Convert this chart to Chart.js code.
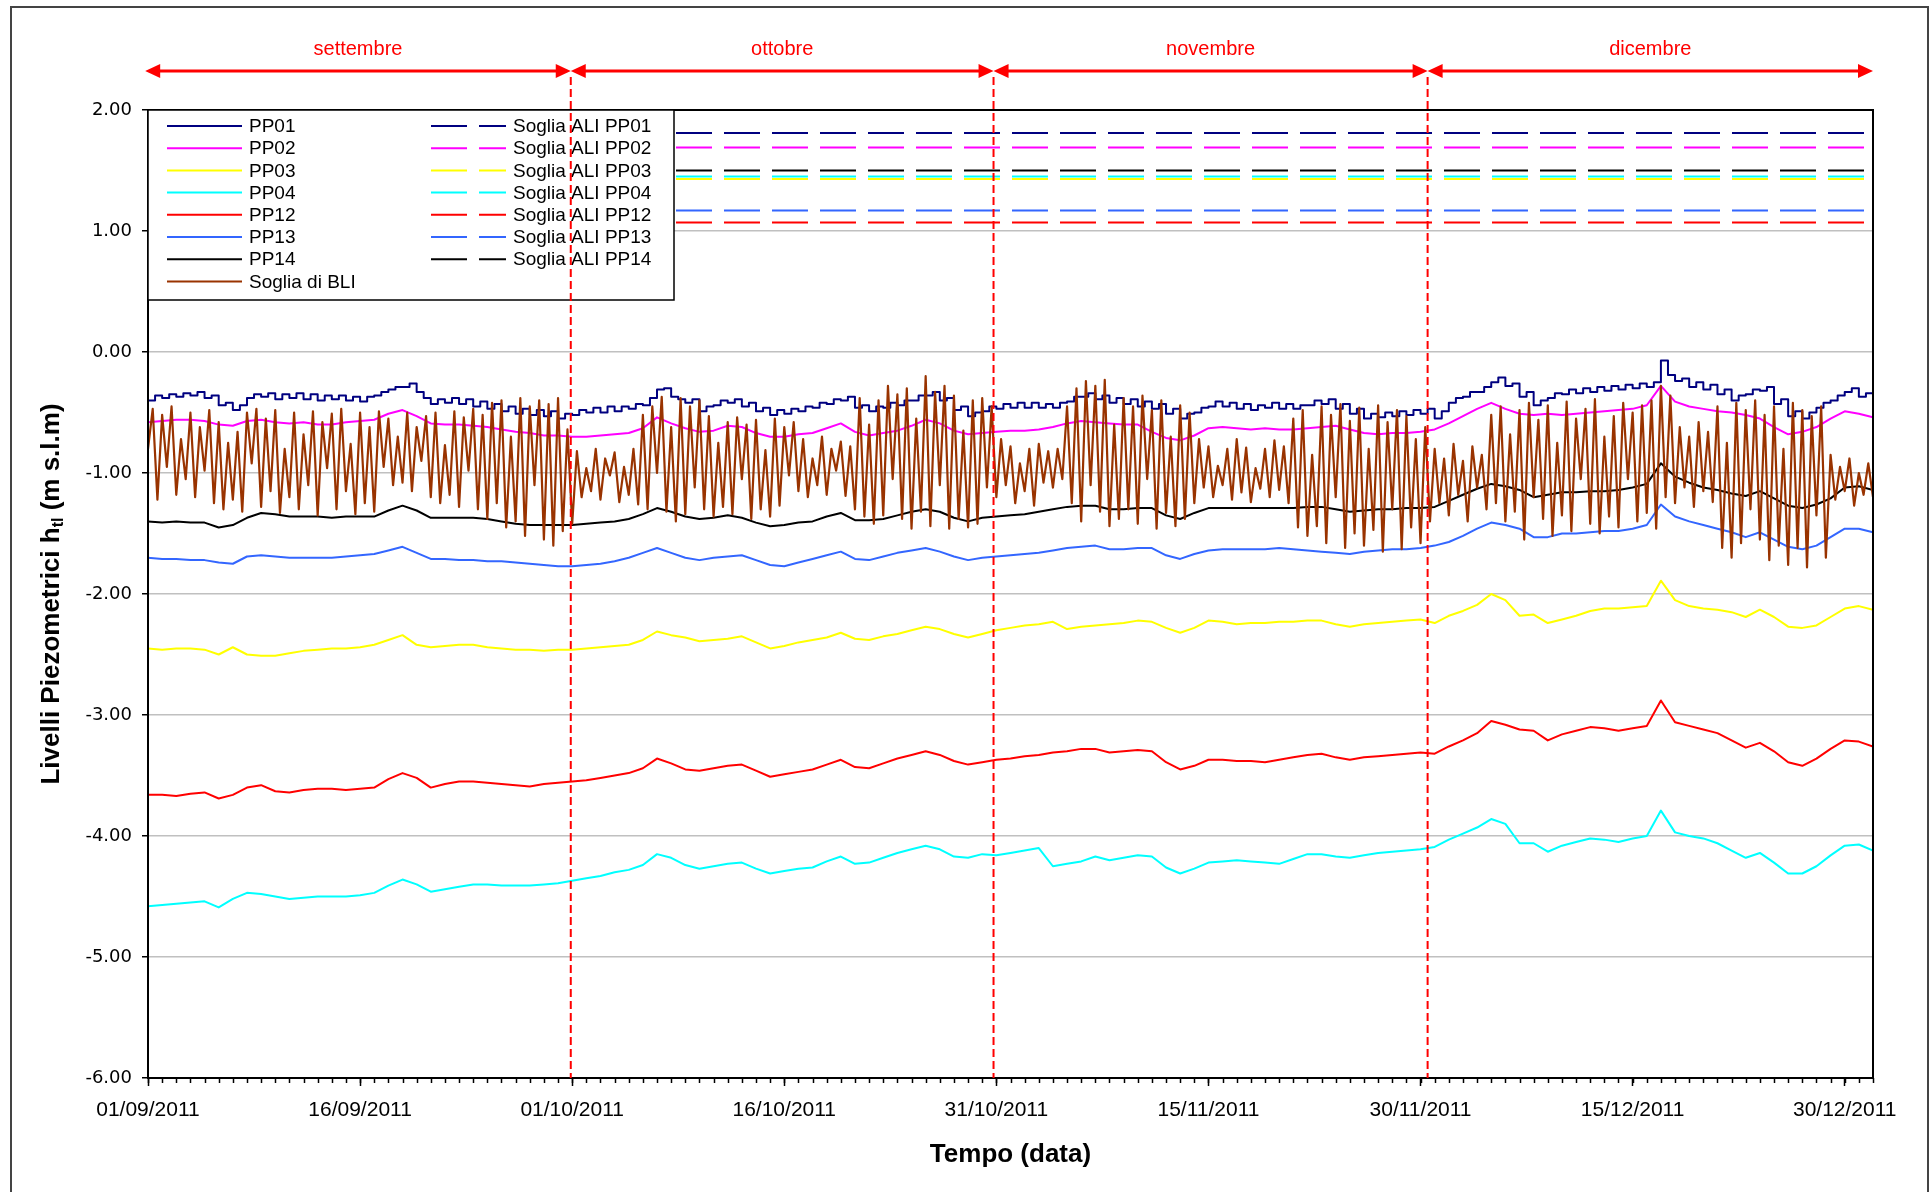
<!DOCTYPE html>
<html lang="it">
<head>
<meta charset="utf-8">
<title>Livelli piezometrici set-dic 2011</title>
<script src="https://cdn.jsdelivr.net/npm/chart.js@4.4.1/dist/chart.umd.min.js"></script>
<style>
  html, body { margin: 0; padding: 0; background: #fff; }
  #box { position: relative; width: 1930px; height: 1192px; }
</style>
</head>
<body>
<div id="box"><canvas id="graficoLivelli"></canvas></div>
<script>
/* ============================================================
DATI (giorni dal 01/09/2011, livelli in m s.l.m.)
============================================================ */

const giorniTotali = 122; // 01/09/2011 -> 01/01/2012
const tickGiorni = [0, 15, 30, 45, 60, 75, 90, 105, 120];
const etichetteX = [
  "01/09/2011", "16/09/2011", "01/10/2011", "16/10/2011", "31/10/2011",
  "15/11/2011", "30/11/2011", "15/12/2011", "30/12/2011",
];

const mesi = ["settembre", "ottobre", "novembre", "dicembre"];
const confiniMesi = [-0.2, 29.9, 59.8, 90.5, 122];

const nomiPozzi = ["PP01", "PP02", "PP03", "PP04", "PP12", "PP13", "PP14"];
const coloriPozzi = ["#000080", "#ff00ff", "#ffff00", "#00ffff", "#ff0000", "#3366ff", "#000000"];
const coloreBLI = "#993300";

// soglie ALI (m s.l.m.) nello stesso ordine dei pozzi
const soglieALI = [1.81, 1.69, 1.43, 1.45, 1.07, 1.17, 1.50];

// PP01: una lettura ogni 12 ore
const passoPP01 = 0.5;
const livelliPP01 = [
  -0.40, -0.36, -0.38, -0.35, -0.37, -0.34, -0.36, -0.33, -0.38, -0.36,
  -0.44, -0.42, -0.48, -0.44, -0.38, -0.35, -0.37, -0.34, -0.39, -0.35,
  -0.38, -0.34, -0.39, -0.35, -0.40, -0.36, -0.39, -0.36, -0.40, -0.37,
  -0.41, -0.37, -0.36, -0.33, -0.31, -0.29, -0.29, -0.26, -0.33, -0.38,
  -0.43, -0.39, -0.42, -0.38, -0.43, -0.39, -0.45, -0.41, -0.47, -0.43,
  -0.49, -0.45, -0.51, -0.47, -0.52, -0.48, -0.53, -0.49, -0.55, -0.51,
  -0.52, -0.48, -0.50, -0.46, -0.50, -0.45, -0.49, -0.45, -0.47, -0.43,
  -0.44, -0.38, -0.31, -0.30, -0.37, -0.39, -0.42, -0.39, -0.49, -0.45,
  -0.44, -0.40, -0.42, -0.39, -0.45, -0.42, -0.49, -0.46, -0.52, -0.48,
  -0.51, -0.47, -0.49, -0.45, -0.46, -0.42, -0.43, -0.39, -0.40, -0.37,
  -0.46, -0.44, -0.49, -0.45, -0.46, -0.42, -0.44, -0.40, -0.40, -0.36,
  -0.36, -0.33, -0.40, -0.38, -0.48, -0.45, -0.53, -0.50, -0.49, -0.45,
  -0.47, -0.43, -0.46, -0.42, -0.46, -0.42, -0.46, -0.43, -0.46, -0.42,
  -0.41, -0.37, -0.37, -0.34, -0.39, -0.36, -0.42, -0.38, -0.43, -0.39,
  -0.45, -0.41, -0.47, -0.43, -0.51, -0.47, -0.55, -0.51, -0.50, -0.46,
  -0.45, -0.41, -0.45, -0.42, -0.47, -0.43, -0.48, -0.44, -0.46, -0.42,
  -0.47, -0.43, -0.47, -0.44, -0.44, -0.40, -0.43, -0.39, -0.47, -0.43,
  -0.51, -0.47, -0.55, -0.51, -0.54, -0.50, -0.53, -0.49, -0.52, -0.48,
  -0.51, -0.47, -0.55, -0.49, -0.42, -0.38, -0.37, -0.33, -0.33, -0.29,
  -0.25, -0.21, -0.28, -0.26, -0.37, -0.33, -0.44, -0.40, -0.38, -0.34,
  -0.35, -0.31, -0.34, -0.30, -0.33, -0.29, -0.32, -0.28, -0.31, -0.27,
  -0.30, -0.26, -0.29, -0.25, -0.07, -0.19, -0.24, -0.22, -0.29, -0.25,
  -0.31, -0.27, -0.35, -0.31, -0.40, -0.36, -0.35, -0.31, -0.32, -0.29,
  -0.43, -0.39, -0.53, -0.49, -0.55, -0.50, -0.46, -0.42, -0.40, -0.36,
  -0.33, -0.30, -0.37, -0.34, -0.39,
];

// gli altri pozzi: una lettura al giorno
const livelliPP02 = [
  -0.58, -0.57, -0.56, -0.56, -0.57, -0.60, -0.61, -0.57, -0.56, -0.58,
  -0.59, -0.58, -0.60, -0.60, -0.58, -0.57, -0.56, -0.51, -0.48, -0.53,
  -0.59, -0.60, -0.60, -0.61, -0.62, -0.64, -0.66, -0.67, -0.69, -0.69,
  -0.70, -0.70, -0.69, -0.68, -0.67, -0.63, -0.54, -0.59, -0.63, -0.66,
  -0.65, -0.61, -0.62, -0.67, -0.70, -0.70, -0.68, -0.67, -0.63, -0.59,
  -0.66, -0.69, -0.67, -0.65, -0.61, -0.56, -0.59, -0.65, -0.68, -0.67,
  -0.66, -0.65, -0.65, -0.64, -0.62, -0.59, -0.57, -0.58, -0.59, -0.60,
  -0.60, -0.66, -0.71, -0.73, -0.69, -0.63, -0.62, -0.63, -0.64, -0.63,
  -0.64, -0.64, -0.63, -0.62, -0.61, -0.64, -0.67, -0.68, -0.67, -0.67,
  -0.66, -0.64, -0.59, -0.53, -0.47, -0.42, -0.47, -0.51, -0.52, -0.51,
  -0.52, -0.51, -0.50, -0.49, -0.48, -0.47, -0.44, -0.28, -0.41, -0.45,
  -0.47, -0.49, -0.50, -0.52, -0.55, -0.62, -0.68, -0.66, -0.62, -0.55,
  -0.49, -0.51, -0.54,
];

const livelliPP03 = [
  -2.45, -2.46, -2.45, -2.45, -2.46, -2.50, -2.44, -2.50, -2.51, -2.51,
  -2.49, -2.47, -2.46, -2.45, -2.45, -2.44, -2.42, -2.38, -2.34, -2.42,
  -2.44, -2.43, -2.42, -2.42, -2.44, -2.45, -2.46, -2.46, -2.47, -2.46,
  -2.46, -2.45, -2.44, -2.43, -2.42, -2.38, -2.31, -2.34, -2.36, -2.39,
  -2.38, -2.37, -2.35, -2.40, -2.45, -2.43, -2.40, -2.38, -2.36, -2.32,
  -2.37, -2.38, -2.35, -2.33, -2.30, -2.27, -2.29, -2.33, -2.36, -2.33,
  -2.30, -2.28, -2.26, -2.25, -2.23, -2.29, -2.27, -2.26, -2.25, -2.24,
  -2.22, -2.23, -2.28, -2.32, -2.28, -2.22, -2.23, -2.25, -2.24, -2.24,
  -2.23, -2.23, -2.22, -2.22, -2.25, -2.27, -2.25, -2.24, -2.23, -2.22,
  -2.21, -2.24, -2.18, -2.14, -2.09, -2.00, -2.05, -2.18, -2.17, -2.24,
  -2.21, -2.18, -2.14, -2.12, -2.12, -2.11, -2.10, -1.89, -2.05, -2.10,
  -2.12, -2.13, -2.15, -2.19, -2.13, -2.19, -2.27, -2.28, -2.26, -2.19,
  -2.12, -2.10, -2.13,
];

const livelliPP04 = [
  -4.58, -4.57, -4.56, -4.55, -4.54, -4.59, -4.52, -4.47, -4.48, -4.50,
  -4.52, -4.51, -4.50, -4.50, -4.50, -4.49, -4.47, -4.41, -4.36, -4.40,
  -4.46, -4.44, -4.42, -4.40, -4.40, -4.41, -4.41, -4.41, -4.40, -4.39,
  -4.37, -4.35, -4.33, -4.30, -4.28, -4.24, -4.15, -4.18, -4.24, -4.27,
  -4.25, -4.23, -4.22, -4.27, -4.31, -4.29, -4.27, -4.26, -4.21, -4.17,
  -4.23, -4.22, -4.18, -4.14, -4.11, -4.08, -4.11, -4.17, -4.18, -4.15,
  -4.16, -4.14, -4.12, -4.10, -4.25, -4.23, -4.21, -4.17, -4.20, -4.18,
  -4.16, -4.17, -4.26, -4.31, -4.27, -4.22, -4.21, -4.20, -4.21, -4.22,
  -4.23, -4.19, -4.15, -4.15, -4.17, -4.18, -4.16, -4.14, -4.13, -4.12,
  -4.11, -4.09, -4.03, -3.98, -3.93, -3.86, -3.90, -4.06, -4.06, -4.13,
  -4.08, -4.05, -4.02, -4.03, -4.05, -4.02, -4.00, -3.79, -3.97, -4.00,
  -4.02, -4.06, -4.12, -4.18, -4.14, -4.22, -4.31, -4.31, -4.25, -4.16,
  -4.08, -4.07, -4.12,
];

const livelliPP12 = [
  -3.66, -3.66, -3.67, -3.65, -3.64, -3.69, -3.66, -3.60, -3.58, -3.63,
  -3.64, -3.62, -3.61, -3.61, -3.62, -3.61, -3.60, -3.53, -3.48, -3.52,
  -3.60, -3.57, -3.55, -3.55, -3.56, -3.57, -3.58, -3.59, -3.57, -3.56,
  -3.55, -3.54, -3.52, -3.50, -3.48, -3.44, -3.36, -3.40, -3.45, -3.46,
  -3.44, -3.42, -3.41, -3.46, -3.51, -3.49, -3.47, -3.45, -3.41, -3.37,
  -3.43, -3.44, -3.40, -3.36, -3.33, -3.30, -3.33, -3.38, -3.41, -3.39,
  -3.37, -3.36, -3.34, -3.33, -3.31, -3.30, -3.28, -3.28, -3.31, -3.30,
  -3.29, -3.30, -3.39, -3.45, -3.42, -3.37, -3.37, -3.38, -3.38, -3.39,
  -3.37, -3.35, -3.33, -3.32, -3.35, -3.37, -3.35, -3.34, -3.33, -3.32,
  -3.31, -3.32, -3.26, -3.21, -3.15, -3.05, -3.08, -3.12, -3.13, -3.21,
  -3.16, -3.13, -3.10, -3.11, -3.13, -3.11, -3.09, -2.88, -3.06, -3.09,
  -3.12, -3.15, -3.21, -3.27, -3.23, -3.30, -3.39, -3.42, -3.36, -3.28,
  -3.21, -3.22, -3.26,
];

const livelliPP13 = [
  -1.70, -1.71, -1.71, -1.72, -1.72, -1.74, -1.75, -1.69, -1.68, -1.69,
  -1.70, -1.70, -1.70, -1.70, -1.69, -1.68, -1.67, -1.64, -1.61, -1.66,
  -1.71, -1.71, -1.72, -1.72, -1.73, -1.73, -1.74, -1.75, -1.76, -1.77,
  -1.77, -1.76, -1.75, -1.73, -1.70, -1.66, -1.62, -1.66, -1.70, -1.72,
  -1.70, -1.69, -1.68, -1.72, -1.76, -1.77, -1.74, -1.71, -1.68, -1.65,
  -1.71, -1.72, -1.69, -1.66, -1.64, -1.62, -1.65, -1.69, -1.72, -1.70,
  -1.69, -1.68, -1.67, -1.66, -1.64, -1.62, -1.61, -1.60, -1.63, -1.63,
  -1.62, -1.62, -1.68, -1.71, -1.67, -1.64, -1.63, -1.63, -1.63, -1.63,
  -1.62, -1.63, -1.64, -1.65, -1.66, -1.67, -1.65, -1.64, -1.63, -1.63,
  -1.62, -1.60, -1.57, -1.52, -1.46, -1.41, -1.43, -1.46, -1.53, -1.53,
  -1.50, -1.50, -1.49, -1.48, -1.48, -1.46, -1.43, -1.26, -1.36, -1.40,
  -1.43, -1.46, -1.49, -1.53, -1.49, -1.55, -1.61, -1.63, -1.60, -1.53,
  -1.46, -1.46, -1.49,
];

const livelliPP14 = [
  -1.40, -1.41, -1.40, -1.41, -1.41, -1.45, -1.43, -1.37, -1.33, -1.34,
  -1.36, -1.36, -1.36, -1.37, -1.36, -1.36, -1.36, -1.31, -1.27, -1.31,
  -1.37, -1.37, -1.37, -1.37, -1.38, -1.40, -1.42, -1.43, -1.43, -1.43,
  -1.43, -1.42, -1.41, -1.40, -1.38, -1.34, -1.29, -1.32, -1.36, -1.38,
  -1.37, -1.35, -1.37, -1.41, -1.44, -1.43, -1.41, -1.40, -1.36, -1.33,
  -1.39, -1.39, -1.38, -1.35, -1.32, -1.30, -1.32, -1.37, -1.40, -1.37,
  -1.36, -1.35, -1.34, -1.32, -1.30, -1.28, -1.27, -1.27, -1.30, -1.30,
  -1.29, -1.29, -1.35, -1.38, -1.33, -1.29, -1.29, -1.29, -1.29, -1.29,
  -1.29, -1.29, -1.28, -1.28, -1.30, -1.32, -1.31, -1.30, -1.30, -1.29,
  -1.29, -1.28, -1.23, -1.18, -1.13, -1.09, -1.11, -1.14, -1.20, -1.18,
  -1.16, -1.16, -1.15, -1.15, -1.14, -1.12, -1.09, -0.92, -1.03, -1.08,
  -1.12, -1.14, -1.17, -1.19, -1.15, -1.21, -1.27, -1.29, -1.26, -1.21,
  -1.12, -1.11, -1.14,
];

// Soglia di BLI: una lettura ogni 8 ore
const passoBLI = 1 / 3;
const livelliBLI = [
  -0.80, -0.47, -1.22, -0.52, -0.95, -0.45, -1.18, -0.72, -1.05, -0.50, -1.20, -0.62, -0.98, -0.48, -1.25,
  -0.58, -1.30, -0.75, -1.22, -0.66, -1.32, -0.50, -0.92, -0.47, -1.28, -0.55, -1.15, -0.48, -1.33, -0.80,
  -1.20, -0.50, -1.30, -0.68, -1.10, -0.49, -1.35, -0.58, -0.96, -0.51, -1.30, -0.47, -1.15, -0.76, -1.34,
  -0.50, -1.25, -0.62, -1.32, -0.49, -0.95, -0.55, -1.10, -0.70, -1.08, -0.50, -1.15, -0.62, -0.90, -0.53,
  -1.20, -0.50, -1.25, -0.77, -1.18, -0.49, -1.28, -0.54, -0.98, -0.47, -1.30, -0.52, -1.38, -0.42, -1.25,
  -0.40, -1.45, -0.70, -1.40, -0.38, -1.52, -0.45, -1.10, -0.40, -1.55, -0.43, -1.60, -0.38, -1.48, -0.64,
  -1.42, -0.82, -1.20, -0.96, -1.15, -0.80, -1.22, -0.88, -1.02, -0.83, -1.24, -0.95, -1.18, -0.80, -1.26,
  -0.52, -1.30, -0.45, -1.00, -0.37, -1.32, -0.62, -1.40, -0.38, -1.34, -0.45, -1.12, -0.40, -1.30, -0.53,
  -1.36, -0.75, -1.28, -0.58, -1.34, -0.54, -1.05, -0.60, -1.38, -0.56, -1.30, -0.81, -1.36, -0.55, -1.27,
  -0.62, -1.02, -0.58, -1.15, -0.72, -1.20, -0.88, -1.10, -0.70, -1.18, -0.80, -0.98, -0.74, -1.19, -0.78,
  -1.30, -0.38, -1.36, -0.60, -1.42, -0.40, -1.35, -0.28, -1.05, -0.35, -1.38, -0.30, -1.46, -0.55, -1.32,
  -0.20, -1.44, -0.33, -1.10, -0.28, -1.46, -0.36, -1.38, -0.65, -1.45, -0.40, -1.42, -0.38, -1.12, -0.45,
  -1.20, -0.72, -1.10, -0.78, -1.25, -0.92, -1.15, -0.80, -1.27, -0.76, -1.08, -0.82, -1.12, -0.80, -1.05,
  -0.45, -1.25, -0.30, -1.40, -0.24, -1.10, -0.28, -1.32, -0.23, -1.44, -0.60, -1.38, -0.38, -1.30, -0.45,
  -1.42, -0.36, -1.05, -0.48, -1.46, -0.40, -1.33, -0.70, -1.44, -0.44, -1.38, -0.50, -1.25, -0.72, -1.12,
  -0.78, -1.20, -0.94, -1.10, -0.80, -1.22, -0.72, -1.16, -0.79, -1.24, -0.96, -1.13, -0.80, -1.20, -0.73,
  -1.14, -0.78, -1.25, -0.55, -1.45, -0.48, -1.52, -0.85, -1.44, -0.45, -1.58, -0.52, -1.20, -0.43, -1.62,
  -0.57, -1.50, -0.46, -1.60, -0.80, -1.47, -0.44, -1.65, -0.58, -1.30, -0.48, -1.63, -0.53, -1.45, -0.72,
  -1.58, -0.62, -1.40, -0.80, -1.25, -0.88, -1.35, -0.76, -1.18, -0.90, -1.40, -0.78, -1.12, -0.85, -1.30,
  -0.52, -1.25, -0.45, -1.40, -0.68, -1.32, -0.48, -1.55, -0.42, -1.20, -0.56, -1.38, -0.44, -1.52, -0.75,
  -1.35, -0.41, -1.48, -0.55, -1.05, -0.47, -1.42, -0.39, -1.50, -0.70, -1.36, -0.53, -1.45, -0.42, -1.05,
  -0.50, -1.40, -0.44, -1.33, -0.40, -1.46, -0.28, -1.20, -0.36, -1.25, -0.62, -1.12, -0.70, -1.28, -0.58,
  -1.15, -0.66, -1.24, -0.45, -1.62, -0.75, -1.70, -0.42, -1.58, -0.48, -1.30, -0.40, -1.55, -0.52, -1.72,
  -0.45, -1.60, -0.80, -1.76, -0.42, -1.62, -0.48, -1.78, -0.53, -1.35, -0.45, -1.70, -0.85, -1.22, -0.95,
  -1.15, -0.88, -1.27, -1.00, -1.18, -0.92, -1.20,
];

const livelliPozzi = [livelliPP01, livelliPP02, livelliPP03, livelliPP04, livelliPP12, livelliPP13, livelliPP14];
const passiPozzi = [passoPP01, 1, 1, 1, 1, 1, 1];

/* ============================================================
FONT
============================================================ */

const fontArial = "'Liberation Sans', Arial, sans-serif";

function punti(valori, passo) {
  return valori.map((v, i) => ({ x: i * passo, y: v }));
}

/* ============================================================
DATASET
============================================================ */

const datasets = [];

nomiPozzi.forEach((nome, i) => {
  datasets.push({
    label: nome,
    gruppo: "livello",
    data: punti(livelliPozzi[i], passiPozzi[i]),
    borderColor: coloriPozzi[i],
    borderWidth: 2,
    stepped: i === 0,
    order: 1,
  });
});

datasets.push({
  label: "Soglia di BLI",
  gruppo: "livello",
  data: punti(livelliBLI, passoBLI),
  borderColor: coloreBLI,
  borderWidth: 2.2,
  order: 0,
});

nomiPozzi.forEach((nome, i) => {
  datasets.push({
    label: "Soglia ALI " + nome,
    gruppo: "soglia",
    data: [
      { x: 0, y: soglieALI[i] },
      { x: giorniTotali, y: soglieALI[i] },
    ],
    borderColor: coloriPozzi[i],
    borderWidth: 2,
    borderDash: [36, 12],
    order: 2,
  });
});

/* ============================================================
PLUGIN DECORAZIONI (legenda, mesi, titoli, cornice)
============================================================ */

function punta(ctx, x, y, verso) {
  // verso = 1 punta a sinistra, -1 punta a destra
  ctx.beginPath();
  ctx.moveTo(x, y);
  ctx.lineTo(x + verso * 15, y - 7);
  ctx.lineTo(x + verso * 15, y + 7);
  ctx.closePath();
  ctx.fill();
}

function disegnaLegenda(chart) {
  const { ctx, chartArea: area } = chart;
  const x0 = area.left;
  const y0 = area.top;

  ctx.fillStyle = "#fff";
  ctx.fillRect(x0, y0, 526, 190);
  ctx.strokeStyle = "#000";
  ctx.lineWidth = 1.5;
  ctx.strokeRect(x0, y0, 526, 190);

  const livelli = chart.data.datasets.filter((d) => d.gruppo === "livello");
  const soglie = chart.data.datasets.filter((d) => d.gruppo === "soglia");

  ctx.font = "19px " + fontArial;
  ctx.textAlign = "left";
  ctx.textBaseline = "middle";

  const riga = (i) => y0 + 16 + i * 22.2;

  livelli.forEach((d, i) => {
    ctx.strokeStyle = d.borderColor;
    ctx.lineWidth = 2;
    ctx.setLineDash([]);
    ctx.beginPath();
    ctx.moveTo(x0 + 19, riga(i));
    ctx.lineTo(x0 + 94, riga(i));
    ctx.stroke();
    ctx.fillStyle = "#000";
    ctx.fillText(d.label, x0 + 101, riga(i) + 1);
  });

  soglie.forEach((d, i) => {
    ctx.strokeStyle = d.borderColor;
    ctx.lineWidth = 2;
    ctx.setLineDash(d.borderDash);
    ctx.beginPath();
    ctx.moveTo(x0 + 283, riga(i));
    ctx.lineTo(x0 + 358, riga(i));
    ctx.stroke();
    ctx.setLineDash([]);
    ctx.fillStyle = "#000";
    ctx.fillText(d.label, x0 + 365, riga(i) + 1);
  });
}

const decorazioniPlugin = {
  id: "decorazioni",

  afterDraw(chart) {
    const { ctx, chartArea: area, scales } = chart;
    const sx = scales.x;

    ctx.save();

    /* cornice esterna */
    ctx.strokeStyle = "#444";
    ctx.lineWidth = 2;
    ctx.strokeRect(11, 7, 1917, 1200);

    /* bordo area grafico */
    ctx.strokeStyle = "#000";
    ctx.lineWidth = 2;
    ctx.strokeRect(area.left, area.top, area.right - area.left, area.bottom - area.top);

    /* tacche giornaliere */
    ctx.lineWidth = 1.5;
    for (let g = 0; g <= giorniTotali; g++) {
      const x = Math.round(sx.getPixelForValue(g)) + 0.5;
      ctx.beginPath();
      ctx.moveTo(x, area.bottom);
      ctx.lineTo(x, area.bottom + 5);
      ctx.stroke();
    }

    disegnaLegenda(chart);

    /* linee tratteggiate di fine mese */
    ctx.strokeStyle = "#ff0000";
    ctx.lineWidth = 2;
    ctx.setLineDash([8, 4]);
    for (let i = 1; i < confiniMesi.length - 1; i++) {
      const x = sx.getPixelForValue(confiniMesi[i]);
      ctx.beginPath();
      ctx.moveTo(x, 77);
      ctx.lineTo(x, area.bottom);
      ctx.stroke();
    }
    ctx.setLineDash([]);

    /* frecce dei mesi */
    const yFreccia = 71;
    ctx.fillStyle = "#ff0000";
    ctx.lineWidth = 3;
    ctx.font = "20px " + fontArial;
    ctx.textAlign = "center";
    ctx.textBaseline = "middle";

    mesi.forEach((mese, i) => {
      const xa = sx.getPixelForValue(confiniMesi[i]);
      const xb = sx.getPixelForValue(confiniMesi[i + 1]);
      ctx.beginPath();
      ctx.moveTo(xa + 12, yFreccia);
      ctx.lineTo(xb - 12, yFreccia);
      ctx.stroke();
      punta(ctx, xa, yFreccia, 1);
      punta(ctx, xb, yFreccia, -1);
      ctx.fillText(mese, (xa + xb) / 2, 49);
    });

    /* titoli assi */
    ctx.fillStyle = "#000";
    ctx.font = "bold 26px " + fontArial;
    ctx.fillText("Tempo (data)", (area.left + area.right) / 2, 1155);

    const parte1 = "Livelli Piezometrici h";
    const pedice = "tl";
    const parte2 = " (m s.l.m)";
    const fontSub = "bold 16px " + fontArial;
    const w1 = ctx.measureText(parte1).width;
    const w3 = ctx.measureText(parte2).width;
    ctx.font = fontSub;
    const w2 = ctx.measureText(pedice).width;
    const totale = w1 + w2 + w3;

    ctx.translate(52, (area.top + area.bottom) / 2);
    ctx.rotate(-Math.PI / 2);
    ctx.textAlign = "left";
    ctx.font = "bold 26px " + fontArial;
    ctx.fillText(parte1, -totale / 2, 0);
    ctx.font = fontSub;
    ctx.fillText(pedice, -totale / 2 + w1, 7);
    ctx.font = "bold 26px " + fontArial;
    ctx.fillText(parte2, -totale / 2 + w1 + w2, 0);

    ctx.restore();
  },
};

/* ============================================================
GRAFICO
============================================================ */

new Chart(document.getElementById("graficoLivelli"), {
  type: "line",
  data: { datasets },
  plugins: [decorazioniPlugin],
  options: {
    responsive: true,
    maintainAspectRatio: false,
    animation: false,
    parsing: false,
    normalized: true,
    layout: { padding: { top: 110, right: 57, left: 0, bottom: 0 } },
    elements: {
      point: { radius: 0, hoverRadius: 0 },
      line: { tension: 0, borderJoinStyle: "round" },
    },
    plugins: {
      legend: { display: false },
      tooltip: { enabled: false },
    },
    scales: {
      x: {
        type: "linear",
        min: 0,
        max: giorniTotali,
        afterFit: (s) => {
          s.height = 114;
        },
        afterBuildTicks: (s) => {
          s.ticks = tickGiorni.map((v) => ({ value: v }));
        },
        ticks: {
          autoSkip: false,
          maxRotation: 0,
          padding: 12,
          color: "#000",
          font: { family: fontArial, size: 21 },
          callback: (v) => etichetteX[tickGiorni.indexOf(v)],
        },
        grid: {
          drawOnChartArea: false,
          tickLength: 8,
          tickColor: "#000",
          tickWidth: 1.5,
        },
        border: { display: false },
      },
      y: {
        min: -6,
        max: 2,
        afterFit: (s) => {
          s.width = 148;
        },
        ticks: {
          stepSize: 1,
          padding: 10,
          color: "#000",
          font: { family: "'DejaVu Sans', Verdana, sans-serif", size: 18 },
          callback: (v) => v.toFixed(2),
        },
        grid: {
          color: "#c0c0c0",
          lineWidth: 1.5,
          tickColor: "#000",
          tickLength: 6,
        },
        border: { display: false },
      },
    },
  },
});
</script>
</body>
</html>
